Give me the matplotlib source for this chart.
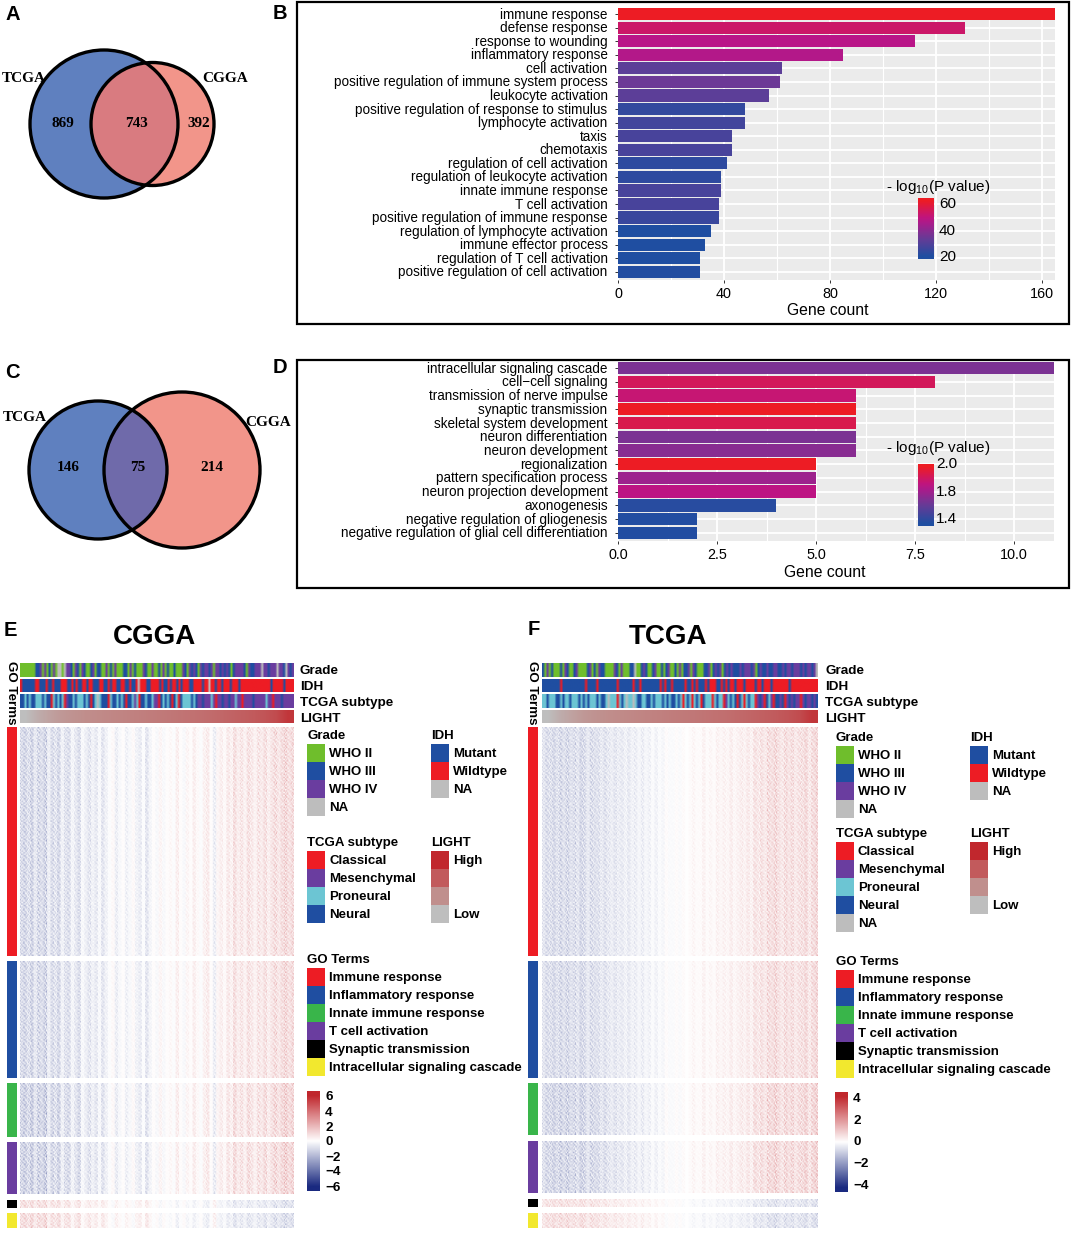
import numpy as np
import matplotlib
matplotlib.use('Agg')
import matplotlib.pyplot as plt
from matplotlib.colors import LinearSegmentedColormap, ListedColormap
from matplotlib.patches import Circle, Rectangle
from matplotlib.transforms import ScaledTranslation

plt.rcParams['font.family'] = ['Liberation Sans', 'DejaVu Sans']
plt.rcParams['mathtext.default'] = 'regular'
plt.rcParams['mathtext.fontset'] = 'custom'
plt.rcParams['mathtext.rm'] = 'Liberation Sans'

W, H = 1072, 1234

# =========================
# DATA
# =========================
terms_b = ['immune response', 'defense response', 'response to wounding', 'inflammatory response',
           'cell activation', 'positive regulation of immune system process', 'leukocyte activation',
           'positive regulation of response to stimulus', 'lymphocyte activation', 'taxis', 'chemotaxis',
           'regulation of cell activation', 'regulation of leukocyte activation', 'innate immune response',
           'T cell activation', 'positive regulation of immune response', 'regulation of lymphocyte activation',
           'immune effector process', 'regulation of T cell activation', 'positive regulation of cell activation']
count_b = [165, 131, 112, 85, 62, 61, 57, 48, 48, 43, 43, 41, 39, 39, 38, 38, 35, 33, 31, 31]
logp_b = [62, 52, 47, 46, 30, 33, 30, 22, 25, 26, 26, 21, 21, 26, 26, 23, 18, 18, 18, 19]

terms_d = ['intracellular signaling cascade', 'cell\u2212cell signaling', 'transmission of nerve impulse',
           'synaptic transmission', 'skeletal system development', 'neuron differentiation',
           'neuron development', 'regionalization', 'pattern specification process',
           'neuron projection development', 'axonogenesis', 'negative regulation of gliogenesis',
           'negative regulation of glial cell differentiation']
count_d = [11, 8, 6, 6, 6, 6, 6, 5, 5, 5, 4, 2, 2]
logp_d = [1.62, 1.92, 1.86, 2.05, 1.95, 1.62, 1.66, 2.05, 1.72, 1.82, 1.36, 1.34, 1.34]

venn_a = ['869', '743', '392']
venn_c = ['146', '75', '214']

# g green, b blue, p purple, n grey, r red, c cyan
grade_e = ('gggggggbbpgpgbgpgnngnppbgpbgpbggbpgbbggpgbgpgggbbgpgbgggpbggpg'
           'gbgpgbggbgggpbgpbpbgpbppbpgppbpbpbgbppppbgpbbpppnppbpppnppbnpbp')
idh_e = ('rbbbbbbrrbbbrbbrbbbrrrbbrbrbbrrbrrbbbrrbbrbrrbbrrbbrbbrnrrrbbrr'
         'rrbrbbrbrrbrbrrrbbrrrrbrrnrrbrrbrrrbrrrbrrrrrrrrrrrrrrbrrrrrbrrrr')
sub_e = ('bbcbcbbcccbcbbrcbcbcrpbbcbcccbcbrbcncbbbrcbbcbcbrbbcpcrbbcbbcp'
         'prbcbcbrbcrbccccbcbppbpppcprppbppbppcpprppppbpppppcpprpppbppppp')
grade_f = ('bgpgbgggbgpbggbpggggbpgbgpbbggggpbgpgggbbnggbpbggbpggbgbpggbgp'
           'gbbpgpbgggbbpgbpbpgbpbpbbbpbpppbpgbpbbpbbppbbpbppbpppbpbppbpn')
idh_f = ('bbbbbbbbrbbbbbbbbbbrbbbbrbbbbbbbbrbbbbbbrbbrbbbbbbbbrbrbbrbbb'
         'bbrbbrbrbbbrbrrrbbrbrbrrbrrrbrrrrbrrbrrrbrrrrrrrbrrrrrrrrrrrr')
sub_f = ('ccbcccbbcbccbcccbcbcbcccbcbbcncccrcbcnccncbbccbbcbcccbcbcbbcbc'
         'rcbcrcbcrbcccrcbccrpcbcbrbcrcbccrpbprbcprbbpbrpbpbpprpbppbpb')

light_levels = [0.00, 0.12, 0.20, 0.27, 0.31, 0.34, 0.36, 0.38, 0.40, 0.42, 0.44, 0.46, 0.48, 0.50,
                0.52, 0.54, 0.57, 0.60, 0.63, 0.66, 0.70, 0.76, 0.90]

# column means of the heat maps, left to right
col_e = [-1.1, -1.3, -0.9, -1.4, -0.7, -1.2, -1.0, -1.4, -0.5, -1.1, -0.8, -1.2, -0.4, -0.9, -1.0, -0.3,
         -0.7, -1.1, -0.2, -0.5, -0.8, -0.4, -0.7, -0.2, -0.8, -0.4, -0.1, 0.2, -0.5, -0.2, 0.1, -0.4,
         -0.2, 0.2, -0.4, -0.6, -0.1, -0.8, -0.3, 0.1, -0.2, 0.3, -0.2, 0.1, 0.2, -0.1, 0.5, 0.1, -0.2,
         0.3, 0.1, 0.5, 0.2, -0.1, 0.4, 0.6, 0.1, -0.5, 0.3, 0.5, 0.2, 0.7, 0.4, 1.0, 0.5, 0.8, 0.4,
         0.9, 0.7, 0.4, 0.8, 0.6, 1.0, 0.5, 0.8, 1.1, 0.7, 1.0, 1.3, 0.9, 1.1]
col_f = [-0.6, -0.8, -0.7, -0.9, -0.7, -0.9, -0.7, -0.9, -0.7, -0.8, -0.6, -0.9, -0.8, -0.5, -0.8, -0.7,
         -0.7, -0.5, -0.7, -0.5, -0.4, -0.6, -0.4, -0.5, -0.3, -0.5, -0.3, -0.4, -0.2, -0.4, -0.2, -0.3,
         -0.1, -0.3, -0.1, -0.2, 0.1, -0.1, -0.1, 0.1, -0.1, 0.1, 0.0, 0.1, 0.2, 0.1, 0.1, 0.3, 0.1, 0.2,
         0.1, 0.3, 0.2, 0.3, 0.2, 0.4, 0.2, 0.3, 0.4, 0.3, 0.5, 0.3, 0.7, 0.5, 0.7, 0.5, 0.8, 0.7, 0.9,
         0.7, 0.5, 0.8, 0.6, 0.8, 0.5, 0.7, 0.7, 0.9, 0.5, 0.8, 0.9]
block_scale = [1.0, 1.0, 1.15, 1.15, -0.8, -0.9]
# small cell-to-cell pattern laid over the column means
speckle = [[1.4, 0.3, 1.0, 1.9, 0.5, 0.1, 1.2, 0.7, 1.6, 0.2, 1.1, 0.6, 1.5],
           [0.2, 1.6, 0.6, 0.3, 1.3, 0.9, 0.1, 1.8, 0.4, 1.2, 0.5, 1.7, 0.3],
           [1.1, 0.5, 1.7, 0.8, 0.2, 1.5, 0.6, 0.3, 1.0, 1.4, 0.1, 0.9, 1.2],
           [0.4, 1.3, 0.1, 1.2, 1.8, 0.4, 1.0, 1.5, 0.2, 0.7, 1.6, 0.3, 0.8],
           [1.7, 0.2, 0.9, 0.5, 1.1, 0.7, 1.9, 0.1, 1.3, 0.5, 0.9, 1.4, 0.4],
           [0.6, 1.0, 1.4, 0.1, 0.6, 1.6, 0.3, 0.9, 0.7, 1.8, 0.2, 1.1, 1.3],
           [1.2, 0.4, 0.3, 1.5, 1.0, 0.2, 1.4, 0.6, 1.1, 0.3, 1.3, 0.7, 0.2],
           [0.3, 1.8, 1.1, 0.7, 0.1, 1.2, 0.8, 1.3, 0.2, 1.6, 0.6, 0.1, 1.0],
           [0.9, 0.1, 0.6, 1.3, 1.6, 0.5, 0.2, 1.1, 1.7, 0.4, 1.0, 1.5, 0.6],
           [1.5, 0.7, 1.2, 0.2, 0.8, 1.3, 1.1, 0.4, 0.6, 0.9, 1.8, 0.2, 1.1],
           [0.1, 1.1, 0.4, 1.6, 0.3, 1.0, 0.5, 1.7, 0.9, 0.1, 0.7, 1.3, 0.5]]
block_colors = ['#ed1c24', '#1f4ea1', '#39b54a', '#6a3d9f', '#000000', '#f2e82e']
go_labels = ['Immune response', 'Inflammatory response', 'Innate immune response', 'T cell activation',
             'Synaptic transmission', 'Intracellular signaling cascade']
blocks_e = [(727, 956), (961, 1078), (1083, 1137), (1142, 1194), (1200, 1208), (1213, 1228)]
blocks_f = [(727, 956), (961, 1078), (1083, 1135), (1141, 1193), (1199, 1207), (1213, 1228)]

strip_colors = {'g': '#6fbe2c', 'b': '#1f4ea1', 'p': '#6a3d9f', 'n': '#bdbdbd', 'r': '#ed1c24', 'c': '#6cc5d3'}
grad_levels = [1.0, 0.9, 0.8, 0.7, 0.6, 0.5, 0.4, 0.3, 0.2, 0.1, 0.0]

# =========================
# FIGURE
# =========================
fig = plt.figure(figsize=(W / 100, H / 100), dpi=100)
ax = fig.add_axes([0, 0, 1, 1])
ax.set_xlim(0, W)
ax.set_ylim(H, 0)
ax.axis('off')
ax.set_zorder(10)


def px_axes(x0, y0, x1, y1):
    return fig.add_axes([x0 / W, 1 - y1 / H, (x1 - x0) / W, (y1 - y0) / H])


def put(x, y, s, size=9.5, bold=False, ha='left', **kw):
    ax.text(x, y + 0.8, s, fontsize=size, fontweight='bold' if bold else 'normal', ha=ha, va='center', **kw)


for s, x, y in [('A', 13, 14), ('B', 280, 13), ('C', 12, 372), ('D', 280, 367), ('E', 10, 630), ('F', 534, 629)]:
    put(x, y, s, size=14.5, bold=True, ha='center')


# =========================
# VENN
# =========================
def venn(c1, r1, c2, r2, col1, col2, overlap, labels, nums, num_x, num_y):
    ax.add_patch(Circle(c1, r1, fc=col1, ec='none'))
    ax.add_patch(Circle(c2, r2, fc=col2, ec='none'))
    clip = Circle(c1, r1, transform=ax.transData)
    over = Circle(c2, r2, fc=overlap, ec='none')
    ax.add_patch(over)
    over.set_clip_path(clip)
    ax.add_patch(Circle(c1, r1, fc='none', ec='black', lw=2.4))
    ax.add_patch(Circle(c2, r2, fc='none', ec='black', lw=2.4))
    for x, y, s in labels:
        put(x, y, s, size=11, bold=True, family='Liberation Serif', ha='center')
    for x, s in zip(num_x, nums):
        put(x, num_y, s, size=11, bold=True, family='Liberation Serif', ha='center')


venn((104, 124), 74, (152.5, 124), 61.5, '#5f80bf', '#f2958a', '#d97b80',
     [(24, 78, 'TCGA'), (225, 78, 'CGGA')], venn_a, [63, 137, 199], 123)
venn((98, 470), 69, (182, 470), 78, '#5f80bf', '#f2958a', '#6f6aaa',
     [(25, 417, 'TCGA'), (268, 422, 'CGGA')], venn_c, [68, 138, 212], 467)

# =========================
# BAR PANELS
# =========================
bar_cmap = LinearSegmentedColormap.from_list('bar', ['#1f4ea1', '#6a3a96', '#bb1488', '#ed1c24'])


def bars(frame, panel, terms, counts, logp, vmin, vmax, xmax, xticks, xfmt, minor, xlab_pos):
    ax.add_patch(Rectangle((frame[0], frame[1]), frame[2] - frame[0], frame[3] - frame[1],
                           fc='none', ec='black', lw=1.6))
    a = px_axes(*panel)
    a.set_facecolor('#ebebeb')
    for s in a.spines.values():
        s.set_visible(False)
    n = len(terms)
    pos = np.arange(n)
    a.barh(pos, counts, height=0.9, color=bar_cmap((np.array(logp) - vmin) / (vmax - vmin)), zorder=3)
    a.set_xlim(0, xmax)
    a.set_ylim(n - 1 + 0.6, -0.45)
    a.set_yticks(pos, terms, fontsize=9.75)
    a.set_xticks(xticks, [xfmt % t for t in xticks], fontsize=10.4)
    a.set_xticks(minor, minor=True)
    a.tick_params(axis='both', length=2, width=0.7, color='#333333', pad=5.5)
    a.tick_params(axis='x', pad=3)
    a.tick_params(axis='x', which='minor', length=0)
    a.grid(True, which='major', color='white', lw=1.3, zorder=1)
    a.grid(True, which='minor', axis='x', color='white', lw=0.8, zorder=1)
    a.set_axisbelow(True)
    up = ScaledTranslation(0, 1 / 100, fig.dpi_scale_trans)
    for t in a.get_yticklabels():
        t.set_transform(t.get_transform() + up)
    put(xlab_pos[0], xlab_pos[1], 'Gene count', size=11.3, ha='center')


def gradient_bar(box, cmap, ticks, labels, tick_x, size, bold=False):
    g = px_axes(*box)
    g.set_zorder(11)
    g.imshow(np.array(grad_levels)[:, None], aspect='auto', cmap=cmap, vmin=0, vmax=1,
             interpolation='bilinear', interpolation_stage='rgba')
    g.axis('off')
    for y, s in zip(ticks, labels):
        put(tick_x, y, s, size=size, bold=bold)


bars((297, 2, 1069, 324), (618, 8, 1055, 280), terms_b, count_b, logp_b, 18, 62, 165,
     [0, 40, 80, 120, 160], '%d', [20, 60, 100, 140], (828, 310))
put(938, 186, '- log$_{10}$(P value)', size=11, ha='center')
gradient_bar((918, 198, 934, 259), bar_cmap, [203, 230, 256], ['60', '40', '20'], 939, 11)

bars((297, 360, 1069, 588), (618, 362, 1054, 541), terms_d, count_d, logp_d, 1.33, 2.05, 11.01,
     [0, 2.5, 5, 7.5, 10], '%.1f', [1.25, 3.75, 6.25, 8.75], (825, 572))
put(938, 447, '- log$_{10}$(P value)', size=11, ha='center')
gradient_bar((918, 464, 934, 526), bar_cmap, [463, 491, 518], ['2.0', '1.8', '1.4'], 936, 11)

# =========================
# HEAT MAPS
# =========================
heat_cmap = LinearSegmentedColormap.from_list('heat', ['#1a2a80', '#ffffff', '#c0272d'])
light_cmap = LinearSegmentedColormap.from_list('light', ['#bebebe', '#c08f8d', '#c25a5c', '#c1272d'])
strip_keys = list(strip_colors)
strip_cmap = ListedColormap([strip_colors[k] for k in strip_keys])


def heat(x0, x1, side, blocks, strips, col, vlim, title, title_x, label_x):
    put(title_x, 636, title, size=20, bold=True, ha='center')
    for (y0, y1), seq in zip([(663, 677), (679, 692), (694, 708)], strips):
        a = px_axes(x0, y0, x1, y1)
        a.imshow([[strip_keys.index(c) for c in seq]], aspect='auto', cmap=strip_cmap,
                 vmin=-0.5, vmax=len(strip_keys) - 0.5, interpolation='bilinear', interpolation_stage='rgba')
        a.axis('off')
    a = px_axes(x0, 710, x1, 723)
    a.imshow([light_levels], aspect='auto', cmap=light_cmap, vmin=0, vmax=1, interpolation='bilinear')
    a.axis('off')
    fine = np.repeat(col, 3)
    for (y0, y1), c, sc in zip(blocks, block_colors, block_scale):
        ax.add_patch(Rectangle((side, y0), 10, y1 - y0, fc=c, ec='none'))
        nrow = max(4, int((y1 - y0) / 1.5))
        tex = np.tile(speckle, (nrow // 11 + 1, len(fine) // 13 + 1))[:nrow, :len(fine)]
        a = px_axes(x0, y0, x1, y1)
        a.imshow(tex * fine * sc, aspect='auto', cmap=heat_cmap, vmin=-vlim, vmax=vlim,
                 interpolation='bilinear')
        a.axis('off')
    for y, s in zip([670, 686, 702, 718], ['Grade', 'IDH', 'TCGA subtype', 'LIGHT']):
        put(label_x, y, s, size=9.7, bold=True)
    ax.text(side + 4, 693, 'GO Terms', rotation=270, fontsize=9.6, fontweight='bold', ha='center', va='center')


def legend(x, y_head, head, labels, colors):
    put(x, y_head, head, bold=True)
    top = y_head + 9
    for i, c in enumerate(colors):
        ax.add_patch(Rectangle((x, top + 18 * i), 18, 18, fc=c, ec='none'))
    for i, s in labels:
        put(x + 22, top + 9 + 18 * i, s, bold=True)


heat(20, 294, 7, blocks_e, [grade_e, idh_e, sub_e], col_e, 6, 'CGGA', 155, 300)
heat(542, 818, 528, blocks_f, [grade_f, idh_f, sub_f], col_f, 4.5, 'TCGA', 668, 825)

grade_items = list(enumerate(['WHO II', 'WHO III', 'WHO IV', 'NA']))
grade_cols = ['#6fbe2c', '#1f4ea1', '#6a3d9f', '#bdbdbd']
idh_items = list(enumerate(['Mutant', 'Wildtype', 'NA']))
idh_cols = ['#1f4ea1', '#ed1c24', '#bdbdbd']
sub_items = list(enumerate(['Classical', 'Mesenchymal', 'Proneural', 'Neural', 'NA']))
sub_cols = ['#ed1c24', '#6a3d9f', '#6cc5d3', '#1f4ea1', '#bdbdbd']
light_items = [(0, 'High'), (3, 'Low')]
light_cols = ['#c1272d', '#c25a5c', '#c08f8d', '#bebebe']
go_items = list(enumerate(go_labels))

# panel E legends
legend(307, 735, 'Grade', grade_items, grade_cols)
legend(431, 735, 'IDH', idh_items, idh_cols)
legend(307, 842, 'TCGA subtype', sub_items[:4], sub_cols[:4])
legend(431, 842, 'LIGHT', light_items, light_cols)
legend(307, 959, 'GO Terms', go_items, block_colors)
# panel F legends
legend(836, 737, 'Grade', grade_items, grade_cols)
legend(970, 737, 'IDH', idh_items, idh_cols)
legend(836, 833, 'TCGA subtype', sub_items, sub_cols)
legend(970, 833, 'LIGHT', light_items, light_cols)
legend(836, 961, 'GO Terms', go_items, block_colors)

gradient_bar((307, 1091, 320, 1191), heat_cmap, [1096, 1112, 1127, 1141, 1157, 1171, 1187],
             ['6', '4', '2', '0', '\u22122', '\u22124', '\u22126'], 325, 9.7, bold=True)
gradient_bar((835, 1092, 848, 1192), heat_cmap, [1098, 1120, 1141, 1163, 1185],
             ['4', '2', '0', '\u22122', '\u22124'], 853, 9.7, bold=True)

fig.savefig('out.png', dpi=100)
